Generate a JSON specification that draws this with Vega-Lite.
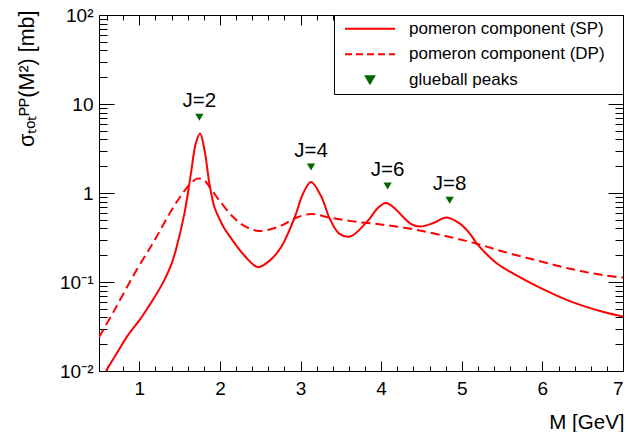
{
  "$schema": "https://vega.github.io/schema/vega-lite/v6.json",
  "width": 524,
  "height": 356,
  "autosize": {"type": "none"},
  "padding": {"left": 99, "top": 15, "right": 5, "bottom": 61},
  "background": "white",
  "config": {
    "view": {"stroke": null},
    "font": "Liberation Sans",
    "axis": {"domainColor": "black", "domainWidth": 1, "tickColor": "black", "tickWidth": 1, "grid": false, "labelColor": "black", "titleColor": "black", "labelFont": "Liberation Sans", "titleFont": "Liberation Sans", "labelFontSize": 19, "titleFontSize": 20, "titleFontWeight": "normal"}
  },
  "data": {
    "values": [
      {"s": "SP", "M": 0.586, "v": 0.010},
      {"s": "SP", "M": 0.72, "v": 0.0158},
      {"s": "SP", "M": 0.855, "v": 0.025},
      {"s": "SP", "M": 1.0, "v": 0.037},
      {"s": "SP", "M": 1.103, "v": 0.051},
      {"s": "SP", "M": 1.2, "v": 0.070},
      {"s": "SP", "M": 1.31, "v": 0.105},
      {"s": "SP", "M": 1.40, "v": 0.16},
      {"s": "SP", "M": 1.456, "v": 0.234},
      {"s": "SP", "M": 1.56, "v": 0.59},
      {"s": "SP", "M": 1.64, "v": 1.65},
      {"s": "SP", "M": 1.70, "v": 3.59},
      {"s": "SP", "M": 1.754, "v": 4.65},
      {"s": "SP", "M": 1.81, "v": 3.0},
      {"s": "SP", "M": 1.87, "v": 1.27},
      {"s": "SP", "M": 1.93, "v": 0.70},
      {"s": "SP", "M": 2.0, "v": 0.50},
      {"s": "SP", "M": 2.05, "v": 0.407},
      {"s": "SP", "M": 2.14, "v": 0.309},
      {"s": "SP", "M": 2.3, "v": 0.20},
      {"s": "SP", "M": 2.47, "v": 0.147},
      {"s": "SP", "M": 2.62, "v": 0.175},
      {"s": "SP", "M": 2.76, "v": 0.247},
      {"s": "SP", "M": 2.93, "v": 0.54},
      {"s": "SP", "M": 3.03, "v": 0.98},
      {"s": "SP", "M": 3.13, "v": 1.33},
      {"s": "SP", "M": 3.26, "v": 0.90},
      {"s": "SP", "M": 3.36, "v": 0.52},
      {"s": "SP", "M": 3.48, "v": 0.35},
      {"s": "SP", "M": 3.62, "v": 0.325},
      {"s": "SP", "M": 3.80, "v": 0.45},
      {"s": "SP", "M": 3.86, "v": 0.52},
      {"s": "SP", "M": 3.96, "v": 0.68},
      {"s": "SP", "M": 4.06, "v": 0.77},
      {"s": "SP", "M": 4.17, "v": 0.67},
      {"s": "SP", "M": 4.27, "v": 0.54},
      {"s": "SP", "M": 4.38, "v": 0.443},
      {"s": "SP", "M": 4.48, "v": 0.42},
      {"s": "SP", "M": 4.65, "v": 0.46},
      {"s": "SP", "M": 4.81, "v": 0.53},
      {"s": "SP", "M": 4.98, "v": 0.45},
      {"s": "SP", "M": 5.10, "v": 0.35},
      {"s": "SP", "M": 5.18, "v": 0.275},
      {"s": "SP", "M": 5.30, "v": 0.209},
      {"s": "SP", "M": 5.45, "v": 0.158},
      {"s": "SP", "M": 5.64, "v": 0.124},
      {"s": "SP", "M": 5.93, "v": 0.090},
      {"s": "SP", "M": 6.34, "v": 0.061},
      {"s": "SP", "M": 6.76, "v": 0.046},
      {"s": "SP", "M": 7.0, "v": 0.041},
      {"s": "DP", "M": 0.5, "v": 0.024},
      {"s": "DP", "M": 0.69, "v": 0.048},
      {"s": "DP", "M": 0.94, "v": 0.124},
      {"s": "DP", "M": 1.19, "v": 0.295},
      {"s": "DP", "M": 1.39, "v": 0.62},
      {"s": "DP", "M": 1.54, "v": 1.0},
      {"s": "DP", "M": 1.64, "v": 1.29},
      {"s": "DP", "M": 1.72, "v": 1.45},
      {"s": "DP", "M": 1.80, "v": 1.40},
      {"s": "DP", "M": 1.90, "v": 1.07},
      {"s": "DP", "M": 2.0, "v": 0.81},
      {"s": "DP", "M": 2.16, "v": 0.54},
      {"s": "DP", "M": 2.3, "v": 0.427},
      {"s": "DP", "M": 2.49, "v": 0.374},
      {"s": "DP", "M": 2.76, "v": 0.43},
      {"s": "DP", "M": 2.93, "v": 0.52},
      {"s": "DP", "M": 3.13, "v": 0.58},
      {"s": "DP", "M": 3.36, "v": 0.53},
      {"s": "DP", "M": 3.65, "v": 0.48},
      {"s": "DP", "M": 4.02, "v": 0.44},
      {"s": "DP", "M": 4.44, "v": 0.385},
      {"s": "DP", "M": 4.85, "v": 0.32},
      {"s": "DP", "M": 5.18, "v": 0.27},
      {"s": "DP", "M": 5.51, "v": 0.22},
      {"s": "DP", "M": 5.93, "v": 0.175},
      {"s": "DP", "M": 6.34, "v": 0.141},
      {"s": "DP", "M": 6.76, "v": 0.119},
      {"s": "DP", "M": 7.0, "v": 0.112},
      {"s": "GB", "M": 1.745, "v": 7.1, "label": "J=2"},
      {"s": "GB", "M": 3.13, "v": 1.96, "label": "J=4"},
      {"s": "GB", "M": 4.08, "v": 1.2, "label": "J=6"},
      {"s": "GB", "M": 4.85, "v": 0.83, "label": "J=8"}
    ]
  },
  "resolve": {"axis": {"x": "independent", "y": "independent"}},
  "layer": [
    {
      "transform": [{"filter": "datum.s === 'SP'"}],
      "mark": {"type": "line", "interpolate": "catmull-rom", "strokeWidth": 2, "clip": true},
      "encoding": {
        "x": {"field": "M", "type": "quantitative", "scale": {"type": "linear", "domain": [0.5, 7], "nice": false, "zero": false},
          "axis": {"orient": "bottom", "values": [1, 2, 3, 4, 5, 6, 7], "tickSize": -10, "labelPadding": 18, "labelFontSize": 19, "format": "d", "title": "M [GeV]", "titleFontSize": 20.5, "titleX": 525, "titleY": 51, "titleAlign": "right", "titleBaseline": "middle", "titleAnchor": null}},
        "y": {"field": "v", "type": "quantitative", "scale": {"type": "log", "domain": [0.01, 100], "nice": false},
          "axis": {"orient": "left", "values": [0.01, 0.1, 1, 10, 100], "tickSize": -15, "labelPadding": 21, "labelFontSize": 19,
            "labelExpr": "round(log(datum.value)/LN10) == -2 ? '10⁻²' : round(log(datum.value)/LN10) == -1 ? '10⁻¹' : round(log(datum.value)/LN10) == 0 ? '1' : round(log(datum.value)/LN10) == 1 ? '10' : '10²'",
            "title": "σₜₒₜᴾᴾ(M²) [mb]", "titleFontSize": 21.5, "titleX": -72, "titleY": -5, "titleAngle": -90, "titleAlign": "right", "titleBaseline": "middle"}},
        "color": {"field": "s", "type": "nominal", "scale": {"domain": ["SP", "DP", "GB"], "range": ["#ff0000", "#ff0000", "#006600"]},
          "legend": {
            "orient": "top-right", "offset": 0, "title": null, "symbolType": "stroke", "symbolSize": 2500, "symbolStrokeWidth": 2,
            "labelFont": "Liberation Sans", "labelFontSize": 17, "labelColor": "black", "padding": 5, "symbolOffset": 5, "labelOffset": 13, "rowPadding": 6.5, "clipHeight": 17.5,
            "strokeColor": "black", "fillColor": "white", "labelLimit": 400,
            "labelExpr": "datum.value === 'SP' ? 'pomeron component (SP)\u00a0\u00a0\u00a0\u200b' : datum.value === 'DP' ? 'pomeron component (DP)' : 'glueball peaks'",
            "encode": {"symbols": {"update": {
              "shape": {"signal": "datum.value === 'GB' ? 'M-0.166,-0.144L0.166,-0.144L0,0.144Z' : 'stroke'"},
              "size": {"value": 2500},
              "strokeWidth": {"value": 2},
              "strokeDash": {"signal": "datum.value === 'DP' ? [7, 4] : [1, 0]"},
              "fill": {"signal": "datum.value === 'GB' ? '#006600' : 'transparent'"},
              "stroke": {"signal": "datum.value === 'GB' ? 'transparent' : '#ff0000'"},
              "opacity": {"value": 1}
            }}}
          }}
      }
    },
    {
      "transform": [{"filter": "datum.s === 'DP'"}],
      "mark": {"type": "line", "interpolate": "catmull-rom", "strokeWidth": 2, "strokeDash": [9, 5], "clip": true},
      "encoding": {
        "x": {"field": "M", "type": "quantitative", "scale": {"type": "linear", "domain": [0.5, 7], "nice": false, "zero": false},
          "axis": {"orient": "bottom", "values": [0.6, 0.8, 1.2, 1.4, 1.6, 1.8, 2.2, 2.4, 2.6, 2.8, 3.2, 3.4, 3.6, 3.8, 4.2, 4.4, 4.6, 4.8, 5.2, 5.4, 5.6, 5.8, 6.2, 6.4, 6.6, 6.8], "tickSize": -5, "labels": false, "title": null}},
        "y": {"field": "v", "type": "quantitative", "scale": {"type": "log", "domain": [0.01, 100], "nice": false},
          "axis": {"orient": "left", "values": [0.02, 0.03, 0.04, 0.05, 0.06, 0.07, 0.08, 0.09, 0.2, 0.3, 0.4, 0.5, 0.6, 0.7, 0.8, 0.9, 2, 3, 4, 5, 6, 7, 8, 9, 20, 30, 40, 50, 60, 70, 80, 90], "tickSize": -8, "labels": false, "title": null}},
        "color": {"field": "s", "type": "nominal", "scale": {"domain": ["SP", "DP", "GB"], "range": ["#ff0000", "#ff0000", "#006600"]}}
      }
    },
    {
      "transform": [{"filter": "datum.s === 'GB'"}],
      "mark": {"type": "point", "shape": "triangle-down", "filled": true, "size": 68, "opacity": 1},
      "encoding": {
        "x": {"field": "M", "type": "quantitative", "scale": {"type": "linear", "domain": [0.5, 7], "nice": false, "zero": false},
          "axis": {"orient": "top", "values": [1, 2, 3, 4, 5, 6, 7], "tickSize": -10, "labels": false, "title": null}},
        "y": {"field": "v", "type": "quantitative", "scale": {"type": "log", "domain": [0.01, 100], "nice": false},
          "axis": {"orient": "right", "values": [0.01, 0.1, 1, 10, 100], "tickSize": -15, "labels": false, "title": null}},
        "color": {"field": "s", "type": "nominal", "scale": {"domain": ["SP", "DP", "GB"], "range": ["#ff0000", "#ff0000", "#006600"]}}
      }
    },
    {
      "transform": [{"filter": "datum.s === 'GB'"}],
      "mark": {"type": "text", "dy": -16, "fontSize": 20.5, "font": "Liberation Sans", "color": "black", "baseline": "middle", "align": "center"},
      "encoding": {
        "x": {"field": "M", "type": "quantitative", "scale": {"type": "linear", "domain": [0.5, 7], "nice": false, "zero": false},
          "axis": {"orient": "top", "values": [0.6, 0.8, 1.2, 1.4, 1.6, 1.8, 2.2, 2.4, 2.6, 2.8, 3.2, 3.4, 3.6, 3.8, 4.2, 4.4, 4.6, 4.8, 5.2, 5.4, 5.6, 5.8, 6.2, 6.4, 6.6, 6.8], "tickSize": -5, "labels": false, "title": null}},
        "y": {"field": "v", "type": "quantitative", "scale": {"type": "log", "domain": [0.01, 100], "nice": false},
          "axis": {"orient": "right", "values": [0.02, 0.03, 0.04, 0.05, 0.06, 0.07, 0.08, 0.09, 0.2, 0.3, 0.4, 0.5, 0.6, 0.7, 0.8, 0.9, 2, 3, 4, 5, 6, 7, 8, 9, 20, 30, 40, 50, 60, 70, 80, 90], "tickSize": -8, "labels": false, "title": null}},
        "text": {"field": "label", "type": "nominal"}
      }
    }
  ]
}
